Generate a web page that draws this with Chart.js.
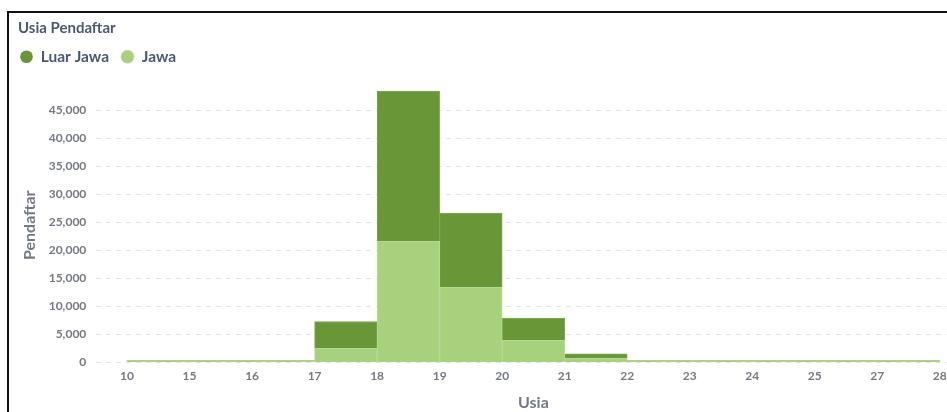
<!DOCTYPE html>
<html>
<head>
<meta charset="utf-8">
<script src="https://cdn.jsdelivr.net/npm/chart.js@4.4.0/dist/chart.umd.min.js"></script>
<style>
    html, body { margin: 0; padding: 0; width: 947px; height: 412px; overflow: hidden; background: #fff; }
    #card { position: absolute; left: 7px; top: 11px; width: 1000px; height: 430px; border-top: 2px solid #111; border-left: 2px solid #111; }
    #wrap { position: absolute; left: 0; top: 0; width: 970px; height: 405px; }
</style>
</head>
<body>
<div id="card"><div id="wrap"><canvas id="usiaChart"></canvas></div></div>
<script>
// bin edges shown under the bars (age), one bar between each pair
const ageEdges = ['10', '15', '16', '17', '18', '19', '20', '21', '22', '23', '24', '25', '27', '28'];
const luarJawa = [0, 0, 0, 4800, 26800, 13200, 3900, 800, 0, 0, 0, 0, 0];
const jawa = [300, 300, 300, 2500, 21600, 13400, 3950, 750, 300, 300, 300, 300, 300];
const yTicks = [0, 5000, 10000, 15000, 20000, 25000, 30000, 35000, 40000, 45000];

const DARK = '#699637';
const LIGHT = '#a8d17d';
const TEXT = '#4c5773';
const AXIS = '#747983';

// bars sit between the edge ticks
const toPoints = arr => arr.map((v, i) => ({x: i + 0.5, y: v}));
// no outline on empty bins
const edge = c => (c.raw && c.raw.y > 0 ? 1 : 0);

// push the legend down a bit and line the title up with the legend dots
const spacing = {
    id: 'spacing',
    beforeInit(chart) {
        const fit = chart.legend.fit;
        chart.legend.fit = function () {
            fit.bind(chart.legend)();
            this.height += 13.5;
        };
    },
    afterLayout(chart) {
        chart.titleBlock.left += 8;
        chart.titleBlock.right += 8;
        chart.legend.left -= 2;
        chart.legend.right -= 2;
    }
};

Chart.defaults.font.family = 'Lato';

const ctx = document.getElementById('usiaChart');
new Chart(ctx, {
    type: 'bar',
    data: {
        datasets: [
            {
                label: 'Jawa',
                data: toPoints(jawa),
                backgroundColor: LIGHT,
                borderColor: '#b7da93',
                borderWidth: edge,
                xAxisID: 'xb'
            },
            {
                label: 'Luar Jawa',
                data: toPoints(luarJawa),
                backgroundColor: DARK,
                borderColor: '#7aa64d',
                borderWidth: edge,
                xAxisID: 'xb'
            }
        ]
    },
    plugins: [spacing],
    options: {
        responsive: true,
        maintainAspectRatio: false,
        animation: false,
        locale: 'en-US',
        barPercentage: 1,
        categoryPercentage: 1,
        layout: {
            padding: {left: 1, right: 8, top: 0, bottom: 2}
        },
        scales: {
            xb: {
                type: 'linear',
                display: false,
                stacked: true,
                offset: false,
                min: -0.5,
                max: ageEdges.length - 0.5
            },
            x: {
                type: 'category',
                labels: ageEdges,
                offset: true,
                grid: {display: false, drawTicks: false},
                border: {display: false},
                ticks: {
                    autoSkip: false,
                    maxRotation: 0,
                    padding: 7,
                    color: AXIS,
                    font: {size: 12, weight: 'bold'}
                },
                title: {
                    display: true,
                    text: 'Usia',
                    color: AXIS,
                    font: {size: 16, weight: 'bold'},
                    padding: {top: 2, bottom: 4}
                }
            },
            y: {
                stacked: true,
                min: 0,
                max: 49000,
                afterBuildTicks: scale => {
                    scale.ticks = yTicks.map(value => ({value}));
                },
                grid: {
                    color: '#e4e4e4',
                    drawTicks: false
                },
                border: {display: false, dash: [5, 5]},
                ticks: {
                    padding: 9.5,
                    color: AXIS,
                    font: {size: 12, weight: 'bold'}
                },
                title: {
                    display: true,
                    text: 'Pendaftar',
                    color: AXIS,
                    font: {size: 16, weight: 'bold'},
                    padding: {top: 10, bottom: 0}
                }
            }
        },
        plugins: {
            title: {
                display: true,
                text: 'Usia Pendaftar',
                align: 'start',
                color: TEXT,
                font: {size: 15, weight: 'bold'},
                padding: {top: 6, bottom: 0}
            },
            legend: {
                align: 'start',
                reverse: true,
                labels: {
                    usePointStyle: true,
                    pointStyle: 'circle',
                    boxWidth: 13,
                    boxHeight: 9,
                    padding: 12,
                    color: TEXT,
                    font: {size: 15.5, weight: 'bold'}
                }
            },
            tooltip: {enabled: false}
        }
    }
});
</script>
</body>
</html>
